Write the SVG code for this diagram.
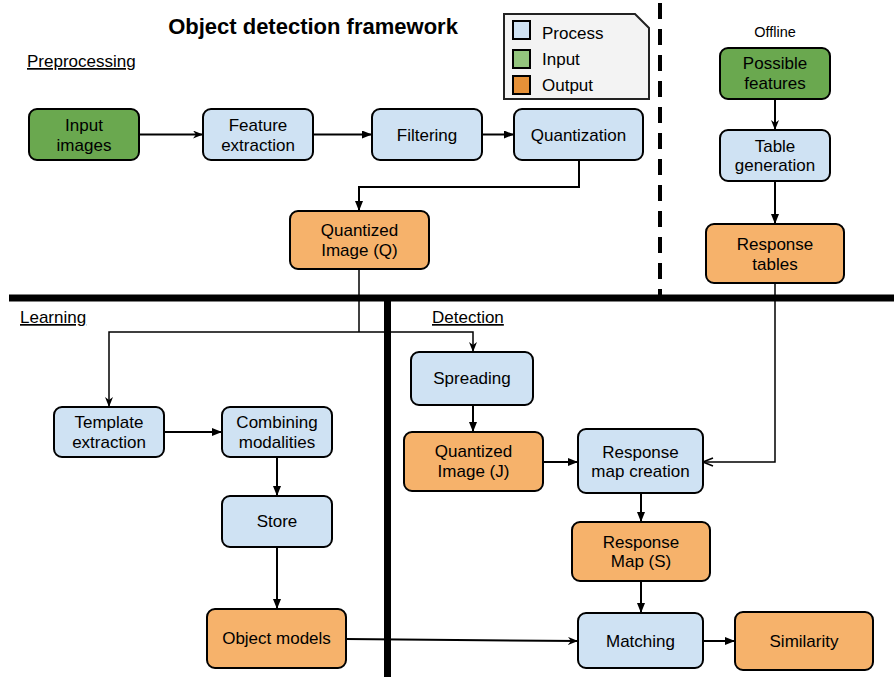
<svg xmlns="http://www.w3.org/2000/svg" width="894" height="677" viewBox="0 0 894 677">
<style>
text{font-family:"Liberation Sans",Arial,sans-serif;fill:#000}
.t{font-size:17px;text-anchor:middle}
.h{font-size:17px;text-decoration:underline}
.proc{fill:#cfe2f3;stroke:#000;stroke-width:2}
.inp{fill:#6aa84f;stroke:#000;stroke-width:2}
.out{fill:#f6b26b;stroke:#000;stroke-width:2}
.c{fill:none;stroke:#000;stroke-width:2}
.c2{fill:none;stroke:#000;stroke-width:1.5}
</style>
<defs>
<marker id="block" viewBox="0 0 10 8" markerWidth="10" markerHeight="8" refX="10" refY="4" orient="auto" markerUnits="userSpaceOnUse"><path d="M0,0 L10,4 L0,8 Z" fill="#000"/></marker>
<marker id="classic" viewBox="0 0 10 8" markerWidth="10" markerHeight="8" refX="10" refY="4" orient="auto" markerUnits="userSpaceOnUse"><path d="M0,0 L10,4 L0,8 L3,4 Z" fill="#000"/></marker>
<marker id="open" viewBox="0 0 12 10" markerWidth="12" markerHeight="10" refX="11" refY="5" orient="auto" markerUnits="userSpaceOnUse"><path d="M1,1 L11,5 L1,9" fill="none" stroke="#000" stroke-width="1.5"/></marker>
</defs>

<text x="313" y="34" style="font-size:22px;font-weight:bold;text-anchor:middle">Object detection framework</text>
<text class="h" x="27" y="67">Preprocessing</text>
<text class="h" x="20" y="323">Learning</text>
<text class="h" x="432" y="323">Detection</text>
<text x="775" y="37" style="font-size:14.5px;text-anchor:middle">Offline</text>

<g id="legend">
<path d="M504,14 H635 L649,28 V99 H504 Z" fill="#f3f3f3" stroke="#222" stroke-width="2"/>
<rect x="513" y="21" width="17" height="18" fill="#cfe2f3" stroke="#000" stroke-width="2"/>
<rect x="513" y="50" width="17" height="18" fill="#93c47d" stroke="#000" stroke-width="2"/>
<rect x="513" y="76" width="17" height="18" fill="#e69138" stroke="#000" stroke-width="2"/>
<text x="542" y="39" style="font-size:17px">Process</text>
<text x="542" y="65" style="font-size:17px">Input</text>
<text x="542" y="91" style="font-size:17px">Output</text>
</g>

<g id="separators">
<line x1="660" y1="3" x2="660" y2="295" stroke="#000" stroke-width="4" stroke-dasharray="16 10"/>
</g>

<g id="connectors">
<path class="c" d="M139,134.5 H203" marker-end="url(#classic)"/>
<path class="c" d="M313,134.5 H372" marker-end="url(#block)"/>
<path class="c" d="M482,134.5 H514" marker-end="url(#block)"/>
<path class="c" d="M579,160 V187 H359 V211" marker-end="url(#block)"/>
<path class="c2" d="M359,269 V332"/>
<path class="c2" d="M359,332 H109 V407" marker-end="url(#classic)"/>
<path class="c2" d="M359,332 H473 V352" marker-end="url(#classic)"/>
<path class="c" d="M775,99 V130" marker-end="url(#classic)"/>
<path class="c" d="M775,181 V224" marker-end="url(#block)"/>
<path class="c2" d="M775,283 V462 H703" marker-end="url(#open)"/>
<path class="c" d="M164,432 H222" marker-end="url(#block)"/>
<path class="c" d="M277,457 V496" marker-end="url(#block)"/>
<path class="c" d="M277,547 V609" marker-end="url(#block)"/>
<path class="c" d="M346,639 L578,641" marker-end="url(#classic)"/>
<path class="c" d="M473,405 V432" marker-end="url(#block)"/>
<path class="c" d="M543,462 H578" marker-end="url(#block)"/>
<path class="c" d="M641,493 V522" marker-end="url(#block)"/>
<path class="c" d="M641,581 V613" marker-end="url(#block)"/>
<path class="c" d="M703,641 H735" marker-end="url(#block)"/>
</g>

<g id="dividers">
<line x1="9" y1="298" x2="894" y2="298" stroke="#000" stroke-width="7"/>
<line x1="387.5" y1="298" x2="387.5" y2="677" stroke="#000" stroke-width="7"/>
</g>

<g id="input_images"><rect class="inp" x="29" y="109" width="110" height="51" rx="8"/><text class="t" x="84" y="131">Input</text><text class="t" x="84" y="151">images</text></g>
<g id="feature_extraction"><rect class="proc" x="203" y="109" width="110" height="51" rx="8"/><text class="t" x="258" y="131">Feature</text><text class="t" x="258" y="151">extraction</text></g>
<g id="filtering"><rect class="proc" x="372" y="109" width="110" height="51" rx="8"/><text class="t" x="427" y="141">Filtering</text></g>
<g id="quantization"><rect class="proc" x="514" y="109" width="129" height="51" rx="8"/><text class="t" x="578.5" y="141">Quantization</text></g>
<g id="quantized_image_q"><rect class="out" x="290" y="211" width="139" height="58" rx="8"/><text class="t" x="359.5" y="236">Quantized</text><text class="t" x="359.5" y="256">Image (Q)</text></g>
<g id="possible_features"><rect class="inp" x="720" y="48" width="110" height="51" rx="8"/><text class="t" x="775" y="69">Possible</text><text class="t" x="775" y="89">features</text></g>
<g id="table_generation"><rect class="proc" x="720" y="130" width="110" height="51" rx="8"/><text class="t" x="775" y="152">Table</text><text class="t" x="775" y="171">generation</text></g>
<g id="response_tables"><rect class="out" x="706" y="224" width="138" height="59" rx="8"/><text class="t" x="775" y="250">Response</text><text class="t" x="775" y="270">tables</text></g>
<g id="template_extraction"><rect class="proc" x="54" y="407" width="110" height="50" rx="8"/><text class="t" x="109" y="428">Template</text><text class="t" x="109" y="448">extraction</text></g>
<g id="combining_modalities"><rect class="proc" x="222" y="407" width="110" height="50" rx="8"/><text class="t" x="277" y="428">Combining</text><text class="t" x="277" y="448">modalities</text></g>
<g id="store"><rect class="proc" x="222" y="496" width="110" height="51" rx="8"/><text class="t" x="277" y="527">Store</text></g>
<g id="object_models"><rect class="out" x="207" y="609" width="139" height="59" rx="8"/><text class="t" x="276.5" y="644">Object models</text></g>
<g id="spreading"><rect class="proc" x="411" y="352" width="122" height="53" rx="8"/><text class="t" x="472" y="384">Spreading</text></g>
<g id="quantized_image_j"><rect class="out" x="404" y="432" width="139" height="59" rx="8"/><text class="t" x="473.5" y="457">Quantized</text><text class="t" x="473.5" y="477">Image (J)</text></g>
<g id="response_map_creation"><rect class="proc" x="578" y="429" width="125" height="64" rx="8"/><text class="t" x="640.5" y="458">Response</text><text class="t" x="640.5" y="477">map creation</text></g>
<g id="response_map_s"><rect class="out" x="572" y="522" width="138" height="59" rx="8"/><text class="t" x="641" y="548">Response</text><text class="t" x="641" y="567">Map (S)</text></g>
<g id="matching"><rect class="proc" x="578" y="613" width="125" height="55" rx="8"/><text class="t" x="640.5" y="647">Matching</text></g>
<g id="similarity"><rect class="out" x="735" y="612" width="138" height="58" rx="8"/><text class="t" x="804" y="647">Similarity</text></g>
</svg>
